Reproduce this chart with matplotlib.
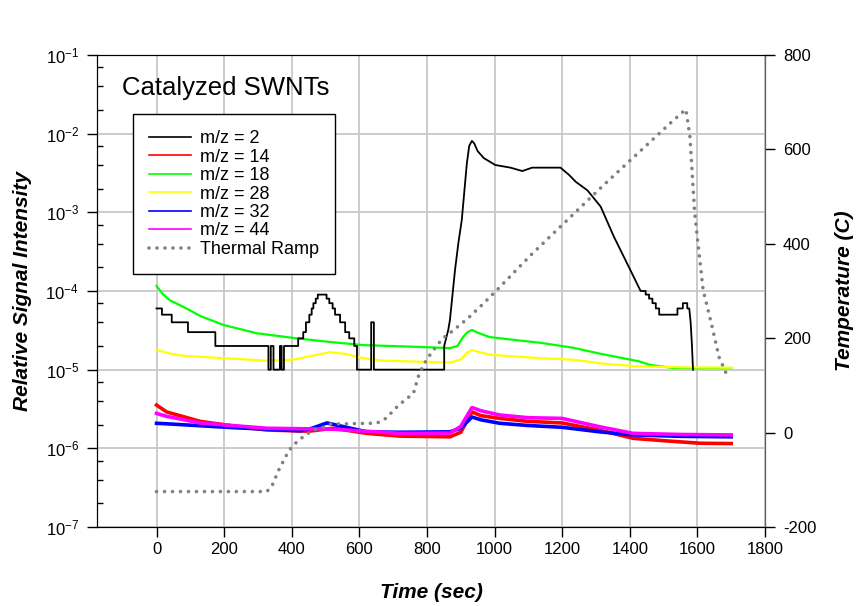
import matplotlib
matplotlib.use("Agg")
import matplotlib.pyplot as plt
from matplotlib.ticker import LogLocator, FixedLocator, NullFormatter

plt.rcParams['font.family'] = ['Liberation Sans', 'DejaVu Sans']
plt.rcParams['mathtext.default'] = 'regular'
plt.rcParams['axes.unicode_minus'] = False

# m/z = 2 (stepped at low signal, smooth during the burn)
t_mz2 = [0, 16, 16, 45, 45, 93, 93, 174, 174, 331, 331, 338, 338, 346, 346,
         365, 365, 370, 370, 377, 377, 419, 419, 434, 434, 442, 442, 452, 452,
         459, 459, 464, 464, 471, 471, 477, 477, 503, 503, 511, 511, 521, 521,
         528, 528, 543, 543, 558, 558, 570, 570, 585, 585, 593, 593, 635, 635,
         643, 643, 851, 851, 863, 868, 883, 893, 903, 918, 925, 933, 940, 950,
         968, 1002, 1047, 1082, 1111, 1195, 1220, 1240, 1275, 1314, 1353, 1393,
         1432, 1447, 1447, 1457, 1457, 1467, 1467, 1477, 1477, 1487, 1487, 1541,
         1541, 1557, 1557, 1570, 1570, 1576, 1580, 1584, 1587]
v_mz2 = [6e-5, 6e-5, 5e-5, 5e-5, 4e-5, 4e-5, 3e-5, 3e-5, 2e-5, 2e-5, 1e-5, 1e-5, 2e-5, 2e-5, 1e-5,
         1e-5, 2e-5, 2e-5, 1e-5, 1e-5, 2e-5, 2e-5, 2.5e-5, 2.5e-5, 3e-5, 3e-5, 4e-5, 4e-5, 5e-5,
         5e-5, 6e-5, 6e-5, 7e-5, 7e-5, 8e-5, 8e-5, 9e-5, 9e-5, 8e-5, 8e-5, 7e-5, 7e-5, 6e-5,
         6e-5, 5e-5, 5e-5, 4e-5, 4e-5, 3e-5, 3e-5, 2.5e-5, 2.5e-5, 2e-5, 2e-5, 1e-5, 1e-5, 4e-5,
         4e-5, 1e-5, 1e-5, 2e-5, 3.2e-5, 4.3e-5, 1.85e-4, 4.1e-4, 8e-4, 4.2e-3, 7e-3, 8.1e-3, 7.5e-3, 6e-3,
         4.9e-3, 4.0e-3, 3.7e-3, 3.35e-3, 3.7e-3, 3.7e-3, 3.0e-3, 2.45e-3, 1.9e-3, 1.18e-3, 4.9e-4, 2.2e-4,
         1.0e-4, 1.0e-4, 9e-5, 9e-5, 8e-5, 8e-5, 7e-5, 7e-5, 6e-5, 6e-5, 5e-5, 5e-5,
         6e-5, 6e-5, 7e-5, 7e-5, 6e-5, 6e-5, 4e-5, 2e-5, 1e-5]

t_mz14 = [0, 30, 129, 228, 326, 450, 523, 622, 720, 868, 900, 933, 960, 1016,
          1100, 1200, 1311, 1410, 1500, 1608, 1700]
v_mz14 = [3.55e-6, 2.9e-6, 2.2e-6, 1.92e-6, 1.71e-6, 1.65e-6, 1.8e-6, 1.55e-6, 1.43e-6,
          1.4e-6, 1.6e-6, 2.9e-6, 2.6e-6, 2.4e-6, 2.2e-6, 2.1e-6, 1.7e-6, 1.34e-6,
          1.25e-6, 1.16e-6, 1.15e-6]

t_mz18 = [0, 20, 40, 79, 130, 198, 297, 415, 513, 612, 770, 868, 890, 907, 920, 933,
          950, 985, 1035, 1134, 1232, 1311, 1380, 1429, 1460, 1528, 1700]
v_mz18 = [1.16e-4, 9e-5, 7.6e-5, 6.3e-5, 4.8e-5, 3.7e-5, 2.9e-5, 2.5e-5, 2.25e-5, 2.05e-5,
          1.95e-5, 1.88e-5, 2.0e-5, 2.6e-5, 3.0e-5, 3.2e-5, 2.95e-5, 2.6e-5, 2.45e-5, 2.2e-5,
          1.9e-5, 1.6e-5, 1.4e-5, 1.27e-5, 1.15e-5, 1.05e-5, 1.05e-5]

t_mz28 = [0, 40, 79, 198, 326, 405, 460, 513, 560, 612, 671, 868, 900, 920, 933, 960,
          985, 1134, 1232, 1330, 1429, 1550, 1700]
v_mz28 = [1.78e-5, 1.6e-5, 1.5e-5, 1.4e-5, 1.3e-5, 1.34e-5, 1.5e-5, 1.67e-5, 1.58e-5,
          1.4e-5, 1.3e-5, 1.23e-5, 1.35e-5, 1.65e-5, 1.78e-5, 1.65e-5, 1.55e-5, 1.4e-5,
          1.34e-5, 1.18e-5, 1.1e-5, 1.07e-5, 1.06e-5]

t_mz32 = [0, 30, 228, 425, 460, 504, 550, 622, 720, 868, 900, 933, 960, 1016, 1100,
          1200, 1311, 1410, 1550, 1700]
v_mz32 = [2.08e-6, 2.05e-6, 1.83e-6, 1.67e-6, 1.8e-6, 2.1e-6, 1.9e-6, 1.62e-6, 1.6e-6,
          1.62e-6, 1.8e-6, 2.5e-6, 2.3e-6, 2.08e-6, 1.95e-6, 1.85e-6, 1.62e-6, 1.48e-6,
          1.42e-6, 1.4e-6]

t_mz44 = [0, 30, 129, 326, 523, 720, 868, 900, 933, 960, 1016, 1100, 1200, 1311,
          1410, 1550, 1700]
v_mz44 = [2.78e-6, 2.55e-6, 2.1e-6, 1.8e-6, 1.75e-6, 1.55e-6, 1.56e-6, 1.9e-6, 3.3e-6,
          3.0e-6, 2.65e-6, 2.45e-6, 2.4e-6, 1.88e-6, 1.55e-6, 1.5e-6, 1.48e-6]

# thermal ramp (right axis, deg C)
t_ramp = [0, 326, 341, 361, 385, 400, 421, 445, 464, 489, 514, 652, 676, 696, 716,
          760, 774, 785, 797, 812, 831, 849, 875, 921, 965, 1007, 1069, 1110, 1325,
          1525, 1566, 1578, 1592, 1617, 1641, 1664, 1691]
temp_ramp = [-125, -125, -114, -80, -47, -30, -16, -3, 5, 10, 18, 20, 29, 43, 58,
             83, 118, 136, 152, 168, 186, 201, 215, 242, 272, 302, 348, 378, 526,
             659, 685, 627, 465, 302, 232, 160, 116]

x_ticks = [0, 200, 400, 600, 800, 1000, 1200, 1400, 1600, 1800]
temp_ticks = [-200, 0, 200, 400, 600, 800]

fig = plt.figure(figsize=(8.61, 6.06), dpi=100)
ax = fig.add_axes([0.1127, 0.1304, 0.7758, 0.7788])

ax.plot(t_mz18, v_mz18, color='#00ff00', lw=1.6, label='m/z = 18')
ax.plot(t_mz28, v_mz28, color='#ffff00', lw=1.6, label='m/z = 28')
ax.plot(t_mz14, v_mz14, color='#ff0000', lw=2.6, label='m/z = 14')
ax.plot(t_mz32, v_mz32, color='#0000ff', lw=2.6, label='m/z = 32')
ax.plot(t_mz44, v_mz44, color='#ff00ff', lw=2.6, label='m/z = 44')
ax.plot(t_mz2, v_mz2, color='black', lw=1.3, label='m/z = 2')

ax.set_yscale('log')
ax.set_ylim(1e-7, 1e-1)
ax.set_xlim(-176, 1800)
ax.set_xticks(x_ticks)
ax.yaxis.set_major_locator(LogLocator(base=10, numticks=10))
ax.yaxis.set_minor_locator(LogLocator(base=10, subs=(2, 4, 7), numticks=10))
ax.yaxis.set_minor_formatter(NullFormatter())
ax.grid(True, which='major', color='#c8c8c8', lw=1.3)
ax.set_axisbelow(True)
ax.tick_params(axis='both', which='major', direction='out', length=7, width=1, labelsize=12)
ax.tick_params(axis='y', which='minor', direction='in', length=4, width=1)
ax.tick_params(axis='y', pad=6)

ax.set_xlabel('Time (sec)', fontsize=15, fontweight='bold', fontstyle='italic')
ax.xaxis.set_label_coords(0.5, -0.119)
ax.set_ylabel('Relative Signal Intensity', fontsize=15, fontweight='bold', fontstyle='italic')
ax.yaxis.set_label_coords(-0.098, 0.5)

ax2 = ax.twinx()
ax2.plot(t_ramp, temp_ramp, color='#808080', lw=2.6, dashes=(0.01, 2.2),
         dash_capstyle='round', label='Thermal Ramp')
ax2.set_ylim(-200, 800)
ax2.yaxis.set_major_locator(FixedLocator(temp_ticks))
ax2.tick_params(axis='y', direction='out', length=7, width=1, labelsize=12, pad=6)
ax2.spines['right'].set_color('#606060')
ax2.set_ylabel('Temperature (C)', fontsize=15, fontweight='bold', fontstyle='italic')
ax2.yaxis.set_label_coords(1.105, 0.5)

ax.text(0.037, 0.915, 'Catalyzed SWNTs', transform=ax.transAxes, fontsize=18.5,
        va='baseline', ha='left')

# legend in the order of the original
h1, l1 = ax.get_legend_handles_labels()
h2, l2 = ax2.get_legend_handles_labels()
order = ['m/z = 2', 'm/z = 14', 'm/z = 18', 'm/z = 28', 'm/z = 32', 'm/z = 44']
hmap = dict(zip(l1, h1))
handles = [hmap[k] for k in order] + h2
labels = order + l2
leg = ax2.legend(handles, labels, loc='upper left', bbox_to_anchor=(0.054, 0.875),
                 borderaxespad=0, fontsize=13, frameon=True, fancybox=False,
                 edgecolor='black', framealpha=1, handlelength=2.3,
                 handletextpad=0.5, labelspacing=0.08, borderpad=0.9)
leg.get_frame().set_linewidth(1.0)
for ln in leg.get_lines()[:-1]:
    ln.set_linewidth(1.2)

fig.savefig('out.png', dpi=100)
